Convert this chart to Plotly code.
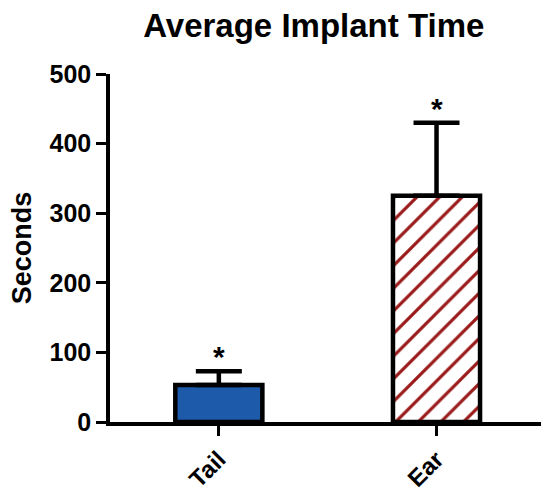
import plotly.graph_objects as go

categories = ["Tail", "Ear"]
means = [53, 325]
errors = [20, 105]
fill_colors = ["#1E5AAA", "white"]
pattern_shapes = ["", "/"]
star_labels = ["*", "*"]

FONT = "Liberation Sans, Arial, sans-serif"

fig = go.Figure()
for c, m, e, col, shp in zip(categories, means, errors, fill_colors, pattern_shapes):
    fig.add_trace(go.Bar(
        x=[c],
        y=[m],
        width=0.4,
        marker=dict(
            color=col,
            line=dict(color="black", width=4.5),
            pattern=dict(shape=shp, fillmode="replace",
                         fgcolor="#9A1A1A", bgcolor="white", fgopacity=1,
                         size=16, solidity=0.2),
        ),
        error_y=dict(type="data", symmetric=False, array=[e], arrayminus=[0],
                     color="black", thickness=4.5, width=23),
        showlegend=False,
    ))

for c, m, e, s in zip(categories, means, errors, star_labels):
    fig.add_annotation(x=c, y=m + e, text=f"<b>{s}</b>", showarrow=False,
                       yanchor="bottom", yshift=-4,
                       font=dict(family=FONT, size=30, color="black"))

fig.update_layout(
    width=541, height=492,
    margin=dict(l=110, r=0, t=74, b=70, autoexpand=False),
    paper_bgcolor="white", plot_bgcolor="white",
    font=dict(family=FONT, color="black"),
    title=dict(text="<b>Average Implant Time</b>", x=0.58, xanchor="center",
               y=0.948, yanchor="middle",
               font=dict(family=FONT, size=33, color="black")),
    barmode="overlay",
)
fig.update_xaxes(
    range=[-0.5, 1.48], showline=True, linecolor="black", linewidth=3.5,
    ticks="outside", ticklen=10, tickwidth=3, tickcolor="black",
    tickangle=-45, automargin=False,
    tickfont=dict(family=FONT, size=24, color="black", weight="bold"),
    showgrid=False, zeroline=False,
)
fig.update_yaxes(
    range=[0, 500], tickvals=[0, 100, 200, 300, 400, 500],
    showline=True, linecolor="black", linewidth=3.5,
    ticks="outside", ticklen=10, tickwidth=3, tickcolor="black",
    automargin=False,
    tickfont=dict(family=FONT, size=25, color="black", weight="bold"),
    title=dict(text="<b>Seconds</b>", standoff=11,
               font=dict(family=FONT, size=27, color="black")),
    showgrid=False, zeroline=False,
)

fig.write_html("out.html")
